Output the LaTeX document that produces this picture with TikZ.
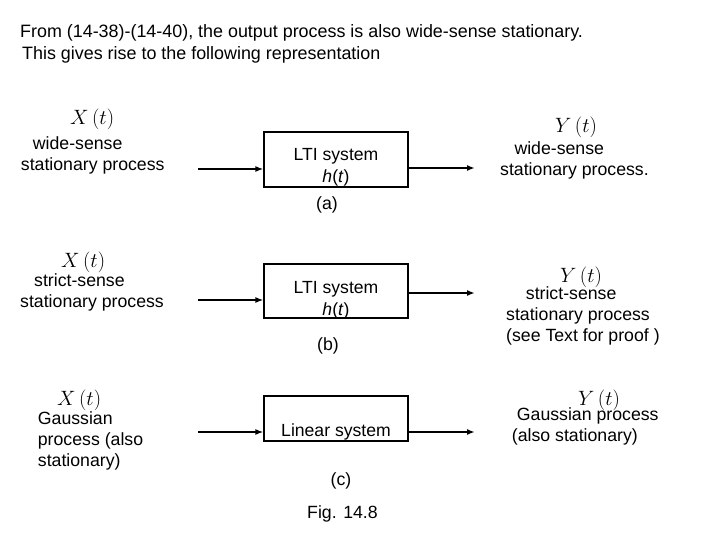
\documentclass[tikz,border=0pt]{standalone}
\usepackage{fontspec}
\setmainfont{Liberation Sans}
\usetikzlibrary{positioning, arrows.meta}

\begin{document}
\begin{tikzpicture}[
    x=1pt, y=-1pt,
    font=\fontsize{17.7}{21}\selectfont,
    sysbox/.style={draw=black, line width=1.2pt, minimum width=144pt, inner sep=0pt},
    boxtxt/.style={align=center, anchor=north, inner sep=0pt, font=\fontsize{17.6}{22}\selectfont},
    desc/.style={align=left, anchor=north west, inner sep=0pt},
    sym/.style={anchor=base west, inner sep=0pt, font=\fontsize{21}{25}\selectfont},
    sublbl/.style={anchor=base, inner sep=0pt},
    head/.style={anchor=base west, inner sep=0pt, font=\fontsize{17.9}{21}\selectfont},
    flow/.style={-{Latex[length=8pt, width=6pt]}, line width=2pt}
]
\useasboundingbox (0,0) rectangle (720,540);
% heading
\node[head] (h1) at (20,37.3) {From (14-38)-(14-40), the output process is also wide-sense stationary.};
\node[head] (h2) at (22,59.3) {This gives rise to the following representation};

% the three systems
\node[sysbox, minimum height=55pt] (boxa) at (336,159.5) {};
\node[sysbox, minimum height=54pt] (boxb) at (336,291) {};
\node[sysbox, minimum height=45pt] (boxc) at (336,418.5) {};
\node[boxtxt] (ta) at (336,148.5) {LTI system\\\textit{h}(\textit{t})};
\node[boxtxt] (tb) at (336,281) {LTI system\\\textit{h}(\textit{t})};
\node[boxtxt] (tc) at (336,423.5) {Linear system};

\node[sublbl] (la) at (327,210) {(a)};
\node[sublbl] (lb) at (328,350.7) {(b)};
\node[sublbl] (lc) at (341,485) {(c)};
\node[sublbl] (fig) at (342.5,518.3) {Fig. 14.8};

% inputs
\node[sym] (xa) at (70,125) {$X\,(t)$};
\node[desc] (ina) at (20.7,136.7) {\hspace*{12pt}wide-sense\\stationary process};
\node[sym] (xb) at (61,267) {$X\,(t)$};
\node[desc] (inb) at (20,273) {\hspace*{14pt}strict-sense\\stationary process};
\node[sym] (xc) at (57,405.5) {$X\,(t)$};
\node[desc] (inc) at (37.7,411.7) {Gaussian\\process (also\\stationary)};

% outputs
\node[sym] (ya) at (555,132.7) {$Y\,(t)$};
\node[desc] (outa) at (500,141.7) {\hspace*{14.3pt}wide-sense\\stationary process.};
\node[sym] (yb) at (560,282.7) {$Y\,(t)$};
\node[desc] (outb) at (506,286.7) {\hspace*{19.7pt}strict-sense\\stationary process\\(see Text for proof )};
\node[sym] (yc) at (578,405) {$Y\,(t)$};
\node[desc] (outc) at (511.7,407.7) {\hspace*{5pt}Gaussian process\\(also stationary)};

% connectors
\foreach \r/\yi/\yo in {a/169/168, b/300/293, c/432/432}{
  \coordinate (s\r) at (198,\yi);
  \coordinate (e\r) at (475,\yo);
  \draw[flow] (s\r) -- (s\r -| box\r.west);
  \draw[flow] (box\r.east |- e\r) -- (e\r);
}
\end{tikzpicture}
\end{document}
